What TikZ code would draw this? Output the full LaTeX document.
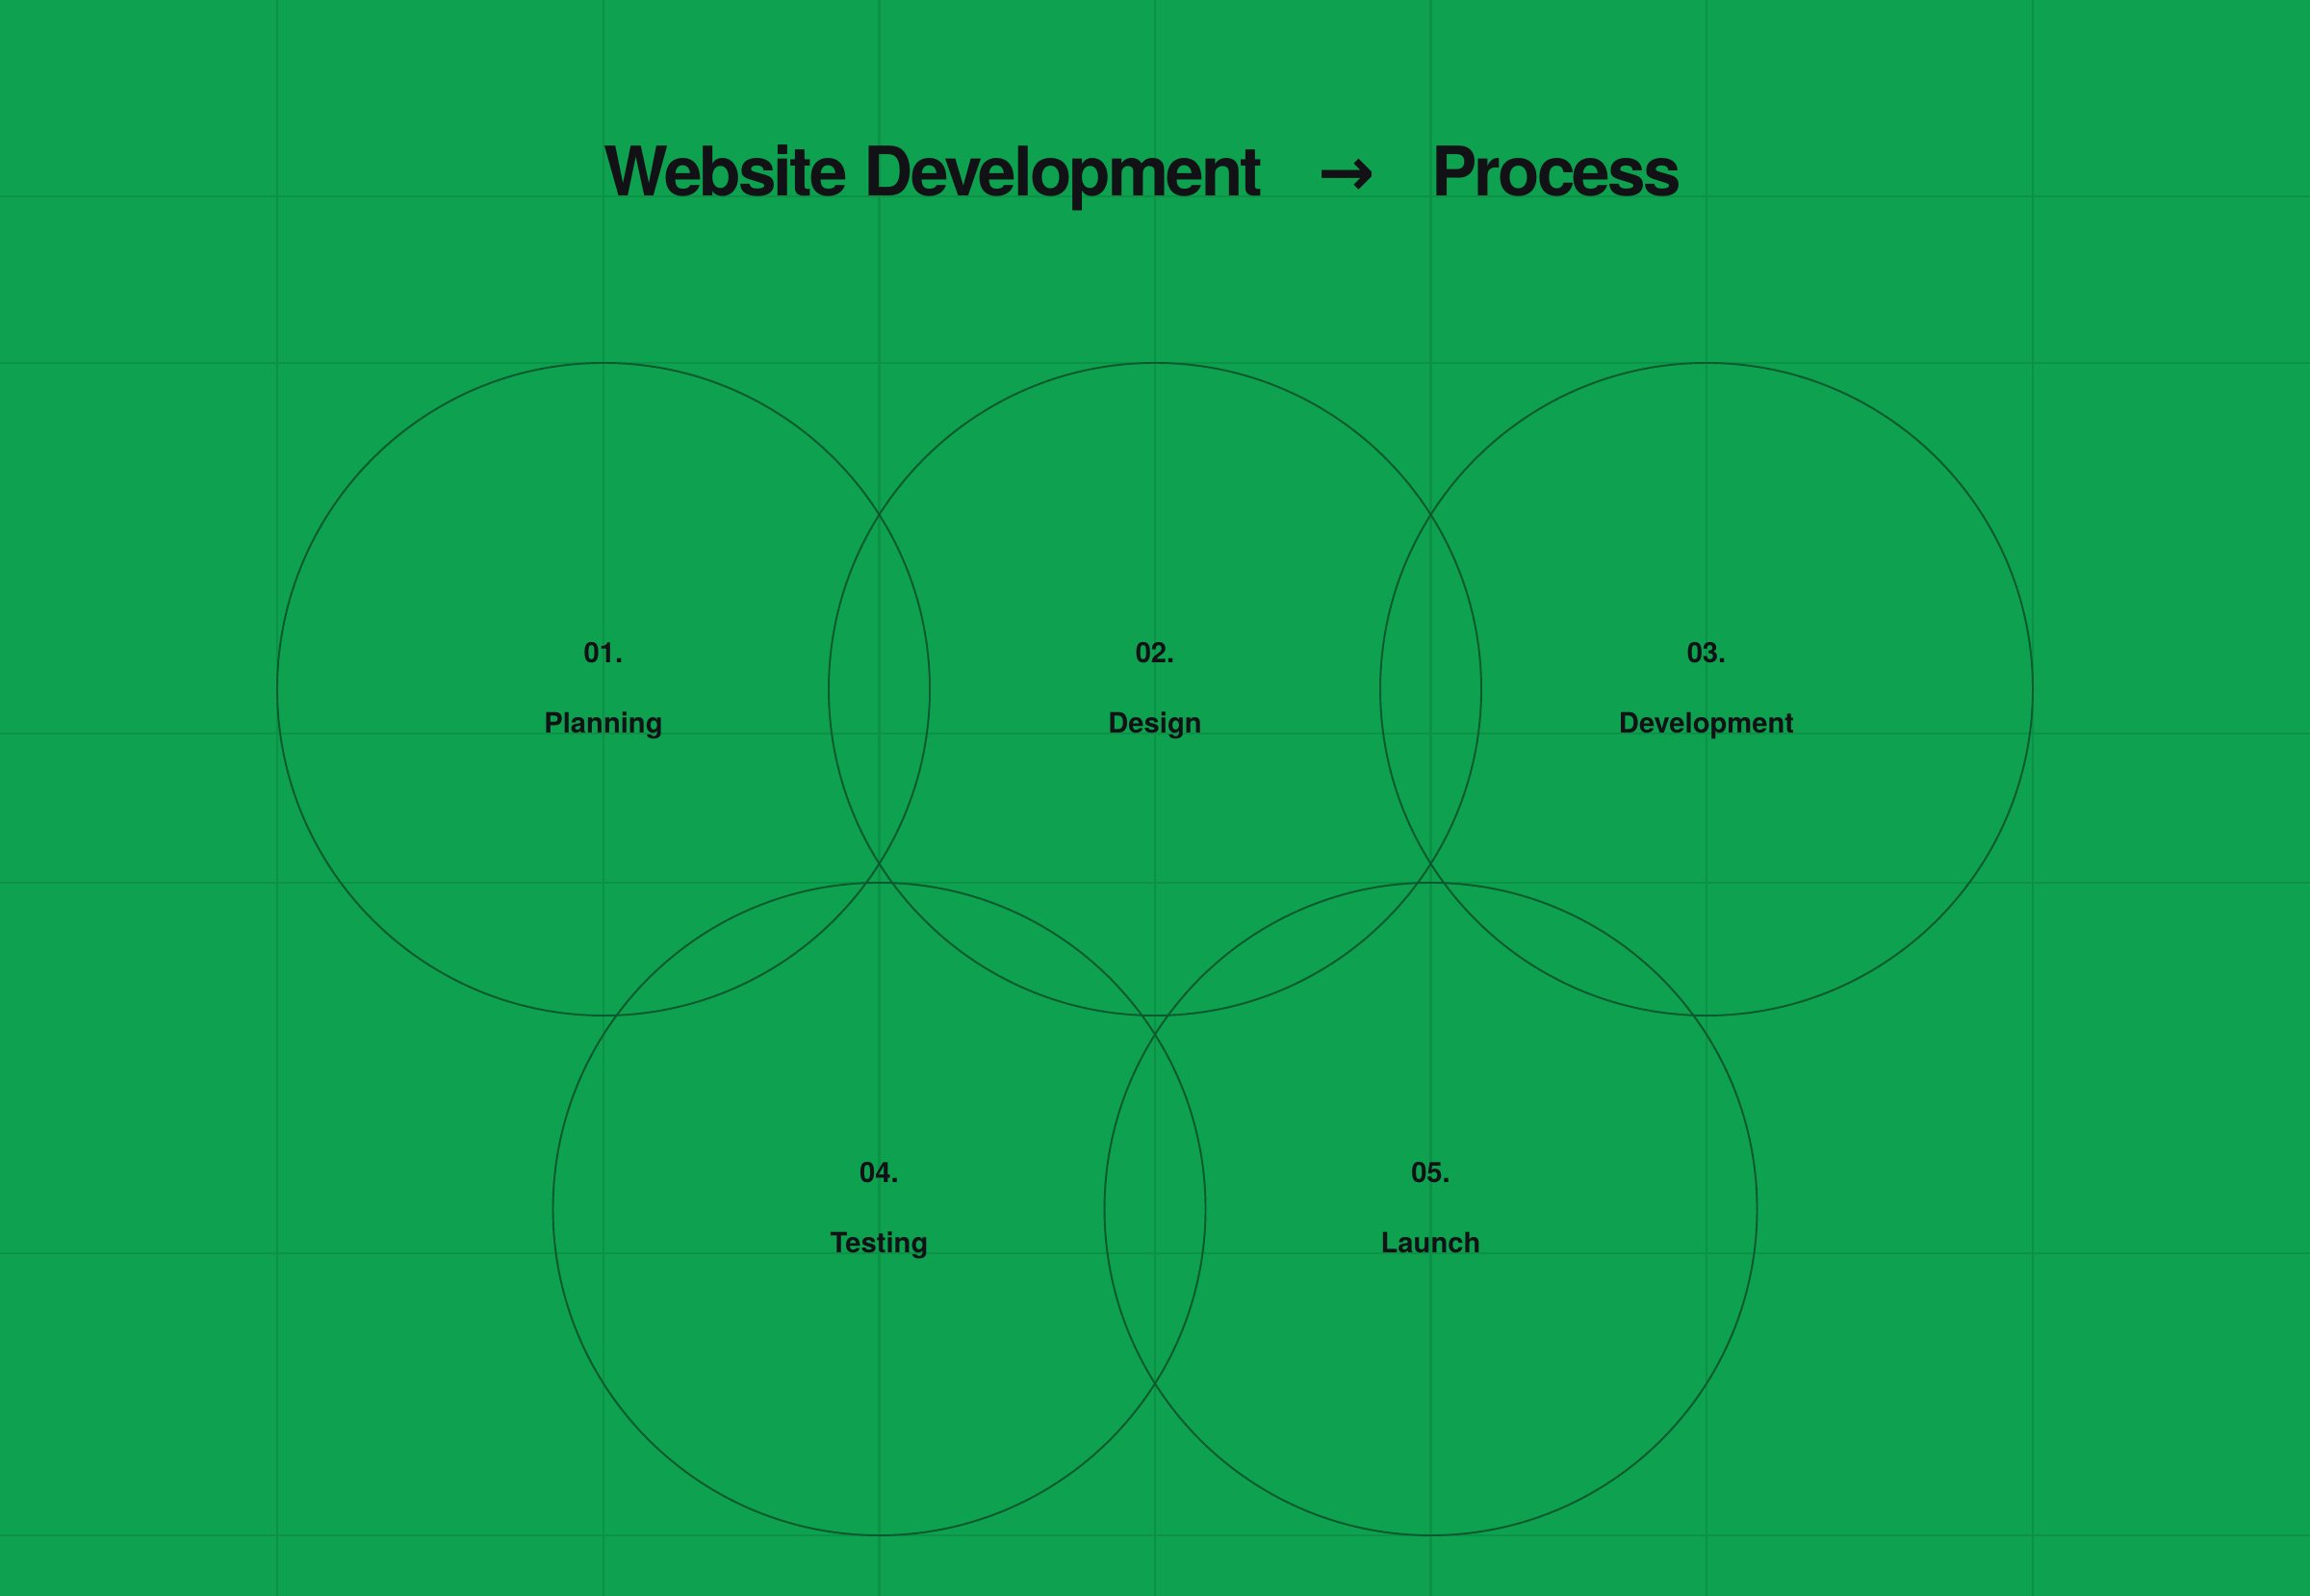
\documentclass[tikz,border=0pt]{standalone}
\usepackage{fontspec}
\usepackage{xcolor}
\setmainfont{TeX Gyre Heros}
\newfontfamily\headfont[LetterSpace=-4]{TeX Gyre Heros}
\newfontfamily\arrowfont{DejaVu Sans}
\usetikzlibrary{positioning}
\definecolor{bggreen}{RGB}{14,161,79}
\definecolor{gridgreen}{RGB}{11,146,70}
\definecolor{ringgreen}{RGB}{11,90,45}
\definecolor{inkblack}{RGB}{18,18,22}
\tikzset{
    gridline/.style={draw=gridgreen, line width=0.6pt},
    ring/.style={draw=ringgreen, line width=0.55pt, circle, minimum size=6.78cm, inner sep=0pt},
    stepnum/.style={text=inkblack, font=\bfseries\fontsize{8.3}{10}\selectfont, anchor=base, inner sep=0pt},
    steplabel/.style={text=inkblack, font=\bfseries\fontsize{8.3}{10}\selectfont, anchor=base, inner sep=0pt},
    headline/.style={text=inkblack, font=\headfont\bfseries\fontsize{20.2}{24}\selectfont, anchor=base west, inner sep=0pt},
    arrowmark/.style={text=inkblack, font=\arrowfont\bfseries\fontsize{20.2}{24}\selectfont, anchor=base, inner sep=0pt}
}

\begin{document}
\begin{tikzpicture}
    \useasboundingbox (0,0) rectangle (24,16.58);
    \fill[bggreen] (-0.2,-0.2) rectangle (24.2,16.78);

    % grid
    \foreach \x in {2.88,6.27,9.135,12.00,14.865,17.73,21.12} {
        \draw[gridline] (\x,-0.2) -- (\x,16.78);
    }
    \foreach \y in {14.54,12.81,8.96,7.41,3.56,0.63} {
        \draw[gridline] (-0.2,\y) -- (24.2,\y);
    }

    % title
    \node[headline] (title) at (6.27,14.54) {Website Development};
    \node[arrowmark] (arr) at (13.99,14.54) {→};
    \node[headline] (proc) at (14.865,14.54) {Process};

    % steps
    \foreach \i/\x/\y/\name in {1/6.27/9.42/Planning, 2/12.00/9.42/Design, 3/17.73/9.42/Development, 4/9.135/4.02/Testing, 5/14.865/4.02/Launch} {
        \node[ring] (c\i) at (\x,\y) {};
        \node[stepnum] (n\i) at ([yshift=0.27cm]c\i.center) {0\i.};
        \node[steplabel] (l\i) at ([yshift=-0.46cm]c\i.center) {\name};
    }
\end{tikzpicture}
\end{document}
